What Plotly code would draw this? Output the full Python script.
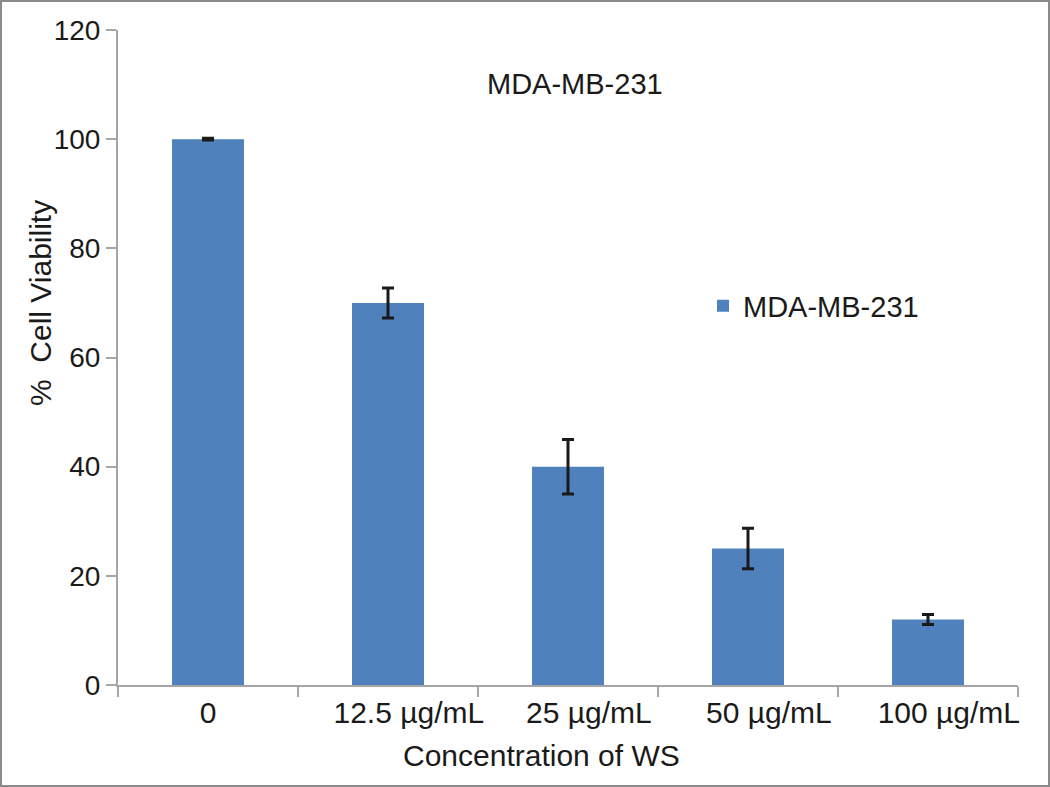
import plotly.graph_objects as go

categories = ["0", "12.5 µg/mL", "25 µg/mL", "50 µg/mL", "100 µg/mL"]
tick_labels = ["0"] + ["\u00a0" * 5 + c for c in categories[1:]]
viability = [100, 70, 40, 25, 12]
errors = [0.15, 2.75, 5.0, 3.7, 0.9]

L, R, T, B = 118, 32, 30, 102
W, H = 1050, 787
pw, ph = W - L - R, H - T - B


def px(x):
    return (x - L) / pw


def py(y):
    return (T + ph - y) / ph


fig = go.Figure()
fig.add_trace(go.Bar(
    x=categories, y=viability, name="MDA-MB-231",
    marker=dict(color="#4F81BD", line=dict(width=0)),
    width=0.4,
    error_y=dict(type="data", array=errors, visible=True,
                 color="#1a1a1a", thickness=3, width=6),
))

fig.update_layout(
    width=W, height=H,
    margin=dict(l=L, r=R, t=T, b=B, autoexpand=False),
    paper_bgcolor="white", plot_bgcolor="white",
    font=dict(family="Liberation Sans, Arial", color="#1a1a1a"),
    showlegend=True,
    legend=dict(x=px(703), y=py(306), yanchor="middle",
                xanchor="left", font=dict(size=29), bgcolor="rgba(0,0,0,0)",
                itemwidth=30),
    annotations=[
        dict(text="MDA-MB-231", x=px(575), y=py(84), xref="paper", yref="paper",
             showarrow=False, font=dict(size=29), yanchor="middle"),
        dict(text="Concentration of WS", x=px(541), y=py(755), xref="paper",
             yref="paper", showarrow=False, font=dict(size=30), yanchor="middle"),
        dict(text="%\u00a0\u00a0Cell Viability", x=px(40), y=py(303), xref="paper",
             yref="paper", showarrow=False, font=dict(size=30), textangle=-90,
             xanchor="center", yanchor="middle"),
    ],
    shapes=[dict(type="rect", xref="paper", yref="paper",
                 x0=px(1), x1=px(W - 1), y0=py(H - 1), y1=py(1),
                 line=dict(color="#8a8a8a", width=2))],
)

fig.update_xaxes(
    showline=True, linecolor="#a6a6a6", linewidth=2,
    ticks="outside", tickson="boundaries", ticklen=10, tickcolor="#a6a6a6",
    tickwidth=2, tickfont=dict(size=30), tickangle=0, automargin=False,
    tickmode="array", tickvals=categories, ticktext=tick_labels,
)
fig.update_yaxes(
    range=[0, 120], dtick=20, showgrid=False, zeroline=False,
    showline=True, linecolor="#a6a6a6", linewidth=2,
    ticks="outside", ticklen=10, tickcolor="#a6a6a6", tickwidth=2,
    tickfont=dict(size=28), automargin=False,
)

fig.write_html("out.html", config={"displayModeBar": False},
               post_script="document.body.style.margin='0';")
